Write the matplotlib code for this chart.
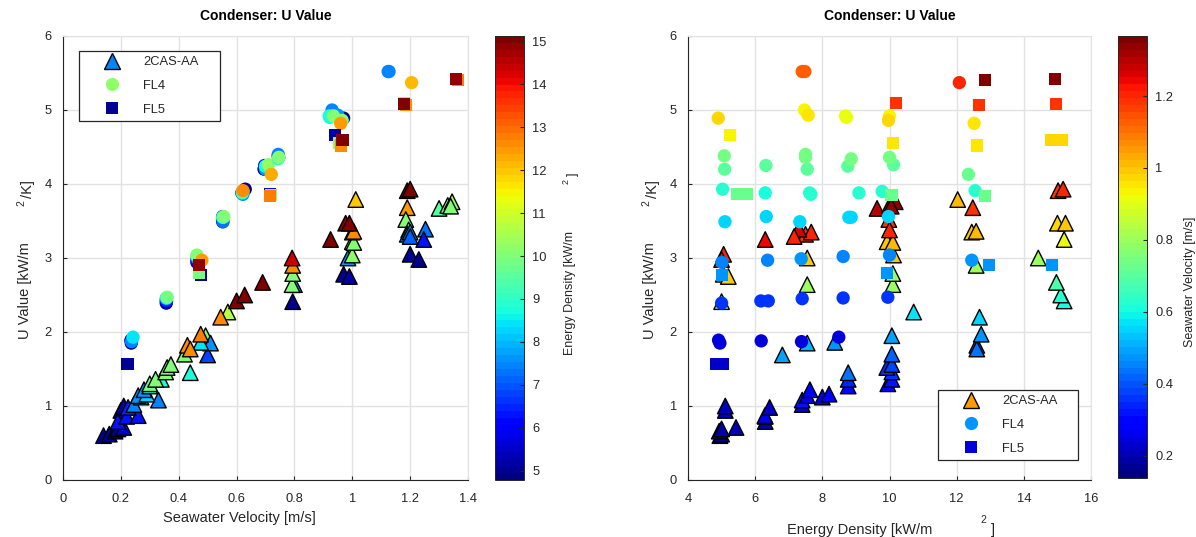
import matplotlib.pyplot as plt
from matplotlib import colors, cm
from matplotlib.lines import Line2D

plt.rcParams['font.family'] = ['Liberation Sans', 'DejaVu Sans']

W, H = 1196, 537

# seawater velocity [m/s], energy density [kW/m2], U value [kW/m2/K]
cas_velocity = [0.14, 0.16, 0.18, 0.19, 0.21, 0.20, 0.21, 0.19, 0.22, 0.26,
                0.225, 0.245, 0.33, 0.27, 0.26, 0.29, 0.28, 0.30, 0.34, 0.44,
                0.30, 0.32, 0.355, 0.36, 0.373, 0.42, 0.493, 0.50, 0.51, 0.476,
                0.43, 0.44, 0.476, 0.57, 0.545, 0.60, 0.628, 0.69, 0.794, 0.80,
                0.792, 0.794, 0.794, 0.792, 0.97, 0.99, 0.985, 1.0, 1.0, 1.005,
                1.0, 1.005, 0.925, 0.977, 0.99, 1.012, 1.20, 1.23, 1.19, 1.20,
                1.19, 1.185, 1.195, 1.19, 1.20, 1.253, 1.247, 1.20, 1.30, 1.33,
                1.345, 1.34]
cas_energy = [4.95, 5.00, 4.93, 5.00, 5.43, 5.11, 5.11, 6.30, 6.30, 6.29,
              6.43, 7.40, 7.40, 8.00, 7.55, 8.20, 7.63, 8.77, 8.77, 8.77,
              9.95, 10.07, 10.07, 9.92, 10.07, 10.07, 10.07, 6.81, 7.55, 8.37,
              12.60, 12.60, 12.73, 10.72, 12.68, 15.20, 15.10, 14.97, 5.00, 7.55,
              10.10, 10.10, 12.58, 14.43, 5.05, 5.20, 7.55, 10.12, 9.93, 10.10,
              12.45, 12.58, 15.20, 15.00, 15.24, 12.03, 5.06, 5.00, 15.02, 15.17,
              12.48, 9.98, 10.00, 7.50, 7.67, 7.30, 6.30, 7.16, 9.63, 10.00,
              10.17, 10.05]
cas_u = [0.60, 0.62, 0.66, 0.69, 0.71, 0.94, 1.00, 0.79, 0.86, 0.87,
         0.98, 1.02, 1.08, 1.12, 1.14, 1.16, 1.22, 1.27, 1.36, 1.45,
         1.30, 1.36, 1.46, 1.52, 1.56, 1.70, 1.95, 1.69, 1.85, 1.86,
         1.82, 1.77, 1.97, 2.27, 2.20, 2.42, 2.50, 2.67, 2.41, 2.64,
         2.64, 2.79, 2.90, 3.00, 2.78, 2.75, 3.00, 3.04, 3.22, 3.21,
         3.35, 3.36, 3.25, 3.47, 3.47, 3.79, 3.05, 2.98, 3.91, 3.93,
         3.68, 3.52, 3.38, 3.32, 3.35, 3.39, 3.25, 3.29, 3.67, 3.71,
         3.76, 3.70]

fl4_velocity = [0.235, 0.236, 0.236, 0.237, 0.242, 0.357, 0.357, 0.358, 0.357, 0.358,
                0.360, 0.463, 0.463, 0.465, 0.463, 0.463, 0.480, 0.552, 0.552, 0.553,
                0.552, 0.554, 0.556, 0.630, 0.618, 0.620, 0.622, 0.620, 0.622, 0.622,
                0.695, 0.697, 0.700, 0.700, 0.710, 0.720, 0.744, 0.744, 0.746, 0.744,
                0.746, 0.970, 0.930, 0.950, 0.920, 0.922, 0.935, 0.965, 0.960, 1.124,
                1.127, 1.205]
fl4_energy = [4.91, 4.95, 6.18, 7.38, 8.49, 5.00, 6.17, 6.39, 7.40, 8.62,
              9.95, 5.01, 6.37, 7.37, 8.62, 10.00, 12.45, 5.10, 6.33, 7.33,
              8.79, 8.86, 9.97, 5.03, 6.30, 7.62, 7.66, 9.09, 9.78, 12.55,
              5.09, 6.32, 7.55, 8.76, 10.12, 12.35, 5.08, 7.50, 7.50, 8.86,
              10.00, 4.90, 7.47, 7.58, 8.69, 8.72, 10.00, 9.97, 12.52, 7.40,
              7.48, 12.08]
fl4_u = [1.89, 1.85, 1.88, 1.87, 1.93, 2.39, 2.42, 2.42, 2.45, 2.46,
         2.47, 2.94, 2.97, 2.99, 3.02, 3.04, 2.97, 3.49, 3.56, 3.49,
         3.55, 3.55, 3.56, 3.93, 3.88, 3.88, 3.86, 3.88, 3.90, 3.91,
         4.20, 4.25, 4.20, 4.24, 4.26, 4.13, 4.38, 4.40, 4.36, 4.34,
         4.36, 4.89, 5.00, 4.93, 4.92, 4.90, 4.92, 4.86, 4.82, 5.52,
         5.52, 5.37]

fl5_velocity = [0.222, 0.224, 0.478, 0.469, 0.470, 0.469, 0.716, 0.716, 0.718, 0.716,
                0.940, 0.955, 0.960, 0.966, 0.968, 1.180, 1.185, 1.178, 1.365, 1.357]
fl5_energy = [4.85, 5.05, 5.01, 9.93, 12.97, 14.85, 5.45, 5.77, 10.06, 12.85,
              5.26, 10.10, 12.60, 14.80, 15.13, 10.19, 12.67, 14.97, 12.85, 14.92]
fl5_u = [1.57, 1.57, 2.77, 2.80, 2.90, 2.91, 3.86, 3.87, 3.85, 3.84,
         4.66, 4.55, 4.52, 4.59, 4.60, 5.10, 5.07, 5.08, 5.40, 5.42]

series_names = ['2CAS-AA', 'FL4', 'FL5']

vel_ticks = [0, 0.2, 0.4, 0.6, 0.8, 1.0, 1.2, 1.4]
vel_ticklabels = ['0', '0.2', '0.4', '0.6', '0.8', '1', '1.2', '1.4']
energy_ticks = [4, 6, 8, 10, 12, 14, 16]
u_ticks = [0, 1, 2, 3, 4, 5, 6]
energy_cbar_ticks = [5, 6, 7, 8, 9, 10, 11, 12, 13, 14, 15]
vel_cbar_ticks = [0.2, 0.4, 0.6, 0.8, 1.0, 1.2]
vel_cbar_ticklabels = ['0.2', '0.4', '0.6', '0.8', '1', '1.2']

energy_range = (4.78, 15.13)
vel_range = (0.138, 1.367)

jet = plt.colormaps['jet'].resampled(64)
e_norm = colors.Normalize(*energy_range)
v_norm = colors.Normalize(*vel_range)
ink = '#262626'


def fig_box(x0, y0, x1, y1):
    # pixel box (top-left origin) -> figure fraction rect
    return [x0 / W, 1 - y1 / H, (x1 - x0) / W, (y1 - y0) / H]


def ftext(x, y, s, **kw):
    kw.setdefault('ha', 'center')
    kw.setdefault('va', 'center')
    kw.setdefault('color', ink)
    fig.text(x / W, 1 - y / H, s, **kw)


def style_axes(ax, xticks, xlabels=None):
    ax.set_xticks(xticks)
    if xlabels is not None:
        ax.set_xticklabels(xlabels)
    ax.set_yticks(u_ticks)
    ax.set_xlim(xticks[0], xticks[-1])
    ax.set_ylim(0, 6)
    ax.grid(True, color='#e2e2e2', lw=1.0)
    ax.set_axisbelow(True)
    for side in ['top', 'right']:
        ax.spines[side].set_color('#e2e2e2')
    for side in ['left', 'bottom']:
        ax.spines[side].set_color(ink)
        ax.spines[side].set_linewidth(0.8)
    ax.tick_params(direction='in', length=3, width=0.8, colors=ink,
                   labelsize=9.3)
    ax.tick_params(axis='x', pad=9)
    ax.tick_params(axis='y', pad=8)


def draw_series(ax, xs, us, cs, norm):
    ax.scatter(xs[0], us[0], c=cs[0], cmap=jet, norm=norm, marker='^', s=125,
               edgecolors='k', linewidths=1.0, zorder=3)
    ax.scatter(xs[1], us[1], c=cs[1], cmap=jet, norm=norm, marker='o', s=92,
               linewidths=0, zorder=4)
    ax.scatter(xs[2], us[2], c=cs[2], cmap=jet, norm=norm, marker='s', s=76,
               linewidths=0, zorder=5)


def add_legend(ax, box, fills):
    handles = [
        Line2D([], [], ls='none', marker='^', markersize=11, markerfacecolor=fills[0],
               markeredgecolor='k', markeredgewidth=1.0),
        Line2D([], [], ls='none', marker='o', markersize=9.5, markerfacecolor=fills[1],
               markeredgewidth=0),
        Line2D([], [], ls='none', marker='s', markersize=8.5, markerfacecolor=fills[2],
               markeredgewidth=0),
    ]
    x0, y0, x1, y1 = box
    leg = ax.legend(handles, series_names, loc='upper left', mode='expand',
                    bbox_to_anchor=(x0 / W, 1 - y1 / H, (x1 - x0) / W, (y1 - y0) / H),
                    bbox_transform=fig.transFigure, borderaxespad=0, fontsize=9.3,
                    handlelength=4.3, handletextpad=0.25, labelspacing=0.9,
                    borderpad=0.4, fancybox=False, framealpha=1)
    leg.get_frame().set_edgecolor(ink)
    leg.get_frame().set_linewidth(0.9)
    for t in leg.get_texts():
        t.set_color(ink)


def style_cbar(cax, norm, ticks, labels=None):
    cb = fig.colorbar(cm.ScalarMappable(norm=norm, cmap=jet), cax=cax)
    cb.set_ticks(ticks)
    if labels is not None:
        cb.set_ticklabels(labels)
    cb.outline.set_edgecolor(ink)
    cb.outline.set_linewidth(0.7)
    cax.tick_params(direction='in', length=3, width=0.8, colors=ink,
                    labelsize=9.3, pad=6)
    return cb


fig = plt.figure(figsize=(W / 100, H / 100), dpi=100)

# left: U value vs seawater velocity, coloured by energy density
ax1 = fig.add_axes(fig_box(63, 36, 468, 480))
draw_series(ax1, [cas_velocity, fl4_velocity, fl5_velocity],
            [cas_u, fl4_u, fl5_u], [cas_energy, fl4_energy, fl5_energy], e_norm)
style_axes(ax1, vel_ticks, vel_ticklabels)
add_legend(ax1, (79, 51, 220, 124), [jet(e_norm(7.5)), jet(e_norm(10.2)), jet(e_norm(5.0))])
cax1 = fig.add_axes(fig_box(495, 36, 524, 480))
style_cbar(cax1, e_norm, energy_cbar_ticks)

# right: U value vs energy density, coloured by seawater velocity
ax2 = fig.add_axes(fig_box(688, 36, 1091, 480))
draw_series(ax2, [cas_energy, fl4_energy, fl5_energy],
            [cas_u, fl4_u, fl5_u], [cas_velocity, fl4_velocity, fl5_velocity], v_norm)
style_axes(ax2, energy_ticks)
add_legend(ax2, (938, 390, 1078, 462), [jet(v_norm(1.05)), jet(v_norm(0.47)), jet(v_norm(0.25))])
cax2 = fig.add_axes(fig_box(1118, 36, 1147, 478))
style_cbar(cax2, v_norm, vel_cbar_ticks, vel_cbar_ticklabels)

# titles and labels (superscripts placed the way the original export shows them)
for cx in [265.5, 889.5]:
    ftext(cx, 15.5, 'Condenser: U Value', fontsize=10, fontweight='bold', color='black')

ftext(239, 518, 'Seawater Velocity [m/s]', fontsize=10.5)
ftext(860, 530, 'Energy Density [kW/m', fontsize=10.5)
ftext(983, 520, '2', fontsize=7.5)
ftext(993, 530, ']', fontsize=10.5)

for lx in [25, 650]:
    ftext(lx, 291, 'U Value [kW/m', fontsize=10.5, rotation=90)
    ftext(lx - 3.5, 203, '2', fontsize=7.5, rotation=90)
    ftext(lx + 3, 189, '/K]', fontsize=10.5, rotation=90)

ftext(570, 293, 'Energy Density [kW/m', fontsize=9, rotation=90)
ftext(566, 182, '2', fontsize=6.5, rotation=90)
ftext(573, 174, ']', fontsize=9, rotation=90)
ftext(1190, 282, 'Seawater Velocity [m/s]', fontsize=9, rotation=90)

fig.savefig('out.png', dpi=100)
